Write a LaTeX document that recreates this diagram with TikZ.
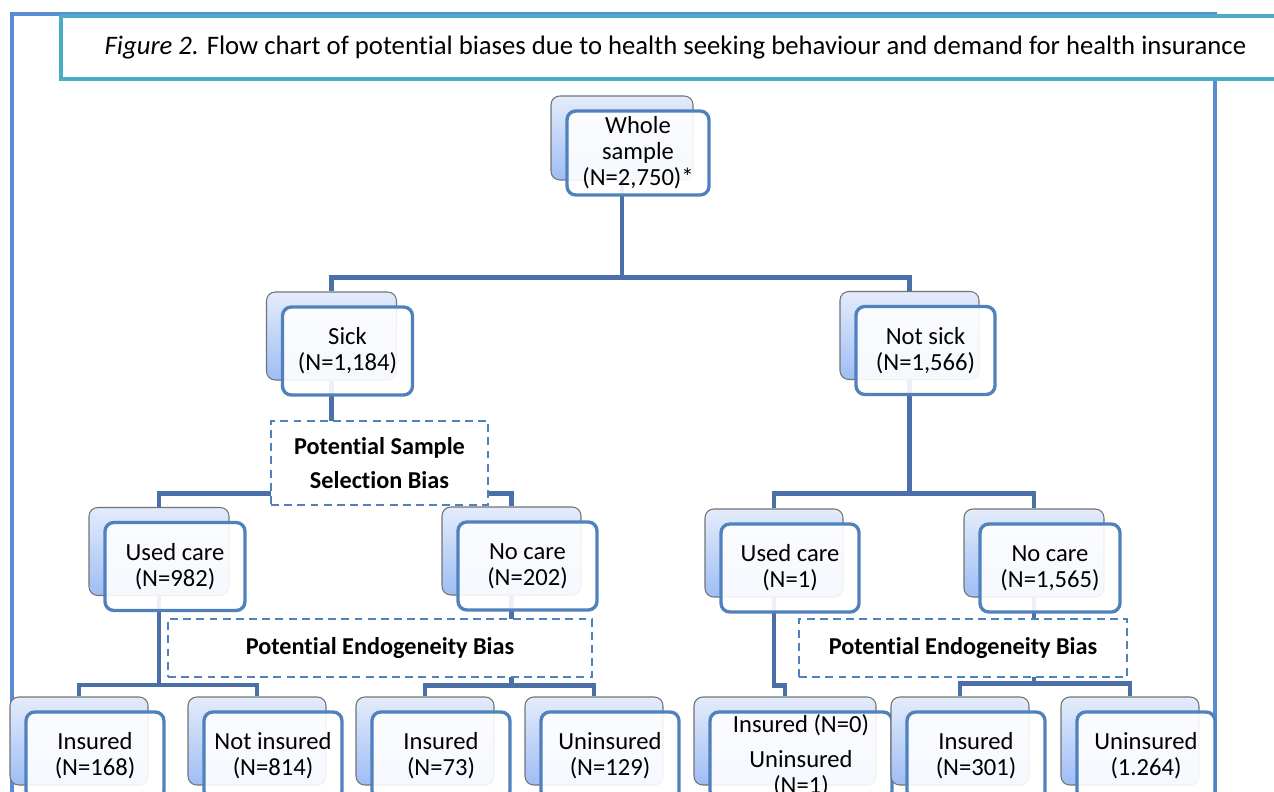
\documentclass[tikz,border=0pt]{standalone}
\usepackage{fontspec}
\setmainfont{Carlito}[Ligatures=NoCommon]
\usetikzlibrary{calc}
\pgfdeclarelayer{background}
\pgfsetlayers{background,main}

\definecolor{frameblue}{HTML}{588DD2}
\definecolor{titleteal}{HTML}{4BACC6}
\definecolor{linkblue}{HTML}{4A70A7}
\definecolor{cardblue}{HTML}{4F81BD}
\definecolor{backtop}{HTML}{E4ECFB}
\definecolor{backbot}{HTML}{9EBDF5}

\tikzset{
  boxsize/.style 2 args={minimum width=#1*0.02cm, minimum height=#2*0.02cm},
  back/.style={draw=black!55, line width=0.6pt, rounded corners=5pt,
               top color=backtop, bottom color=backbot, boxsize={138}{88}},
  card/.style={draw=cardblue, line width=1.9pt, rounded corners=5pt,
               fill=white, fill opacity=0.9, text opacity=1, align=center,
               inner sep=1pt, font=\fontsize{14}{14.8}\selectfont,
               boxsize={138}{88}, shift={(16,15)}},
  bias/.style={draw=cardblue, dashed, dash pattern=on 4.5pt off 3pt,
               line width=1.1pt, fill=white, align=center,
               font=\bfseries\fontsize{13.8}{15}\selectfont},
  link/.style={draw=linkblue, line width=2.6pt},
  captionbox/.style={draw=titleteal, line width=1.8pt, fill=white,
               boxsize={1229}{63}, font=\fontsize{15.2}{17}\selectfont}
}

\begin{document}
\begin{tikzpicture}[x=0.02cm, y=-0.02cm]
\useasboundingbox (0,0) rectangle (1274,791);

% frame and caption
\draw[frameblue, line width=2.3pt] (12,800) -- (12,14) -- (1215,14) -- (1215,800);
\node[captionbox] (caption) at (675.5,47.5) {\textit{Figure 2.} Flow chart of potential biases due to health seeking behaviour and demand for health insurance};

% whole sample
\node[back, boxsize={142}{84}] (whole-b) at (622,138) {};
\node[card, boxsize={142}{84}] (whole) at (whole-b) {Whole\\sample\\(N=2,750)*};

% sick / not sick
\node[back, boxsize={130}{88}] (sick-b) at (331.5,336) {};
\node[card, boxsize={130}{88}] (sick) at (sick-b) {Sick\\(N=1,184)};
\node[back, boxsize={139}{88}] (notsick-b) at (909.5,335.5) {};
\node[card, boxsize={139}{88}] (notsick) at (notsick-b) {Not sick\\(N=1,566)};

% care
\node[back, boxsize={140}{88}] (usedA-b) at (159,551.5) {};
\node[card, boxsize={140}{88}] (usedA) at (usedA-b) {Used care\\(N=982)};
\node[back, boxsize={139}{88}] (nocareA-b) at (511.5,551) {};
\node[card, boxsize={139}{88}] (nocareA) at (nocareA-b) {No care\\(N=202)};
\node[back] (usedB-b) at (774,553) {};
\node[card] (usedB) at (usedB-b) {Used care\\(N=1)};
\node[back, boxsize={140}{88}] (nocareB-b) at (1034,553) {};
\node[card, boxsize={140}{88}] (nocareB) at (nocareB-b) {No care\\(N=1,565)};

% insurance
\node[back] (insA-b) at (79,741) {};
\node[card] (insA) at (insA-b) {Insured\\(N=168)};
\node[back] (notinsA-b) at (257,741) {};
\node[card] (notinsA) at (notinsA-b) {Not insured\\(N=814)};
\node[back] (insB-b) at (425,741) {};
\node[card] (insB) at (insB-b) {Insured\\(N=73)};
\node[back] (uninsB-b) at (594,741) {};
\node[card] (uninsB) at (uninsB-b) {Uninsured\\(N=129)};
\node[back, boxsize={182}{88}] (insC-b) at (785,741) {};
\node[card, boxsize={182}{88}] (insC) at (insC-b) {Insured (N=0)\\[5pt]Uninsured\\(N=1)};
\node[back] (insD-b) at (960,741) {};
\node[card] (insD) at (insD-b) {Insured\\(N=301)};
\node[back] (uninsD-b) at (1130,741) {};
\node[card] (uninsD) at (uninsD-b) {Uninsured\\(1.264)};

% biases
\node[bias, boxsize={217}{84}] (selbias) at (379.5,463) {Potential Sample\\[4pt]Selection Bias};
\node[bias, boxsize={424}{58}] (endoA) at (380,648) {Potential Endogeneity Bias};
\node[bias, boxsize={328}{58}] (endoB) at (963,648) {Potential Endogeneity Bias};

\begin{pgfonlayer}{background}
\draw[link] (whole-b.south) -- ++(0,97) coordinate (f0) -| (sick-b.north);
\draw[link] (f0) -| (notsick-b.north);
\draw[link] (sick-b.south) -- ++(0,113) coordinate (f1) -| (usedA-b.north);
\draw[link] (f1) -| (nocareA-b.north);
\draw[link] (notsick-b.south) -- ++(0,113.5) coordinate (f2) -| (usedB-b.north);
\draw[link] (f2) -| (nocareB-b.north);
\draw[link] (usedA-b.south) -- ++(0,89) coordinate (f3) -| (insA-b.north);
\draw[link] (f3) -| (notinsA-b.north);
\draw[link] (nocareA-b.south) -- ++(0,90) coordinate (f4) -| (insB-b.north);
\draw[link] (f4) -| (uninsB-b.north);
\draw[link] (usedB-b.south) -- ++(0,88) -| (insC-b.north);
\draw[link] (nocareB-b.south) -- ++(0,86) coordinate (f5) -| (insD-b.north);
\draw[link] (f5) -| (uninsD-b.north);
\end{pgfonlayer}
\end{tikzpicture}
\end{document}
